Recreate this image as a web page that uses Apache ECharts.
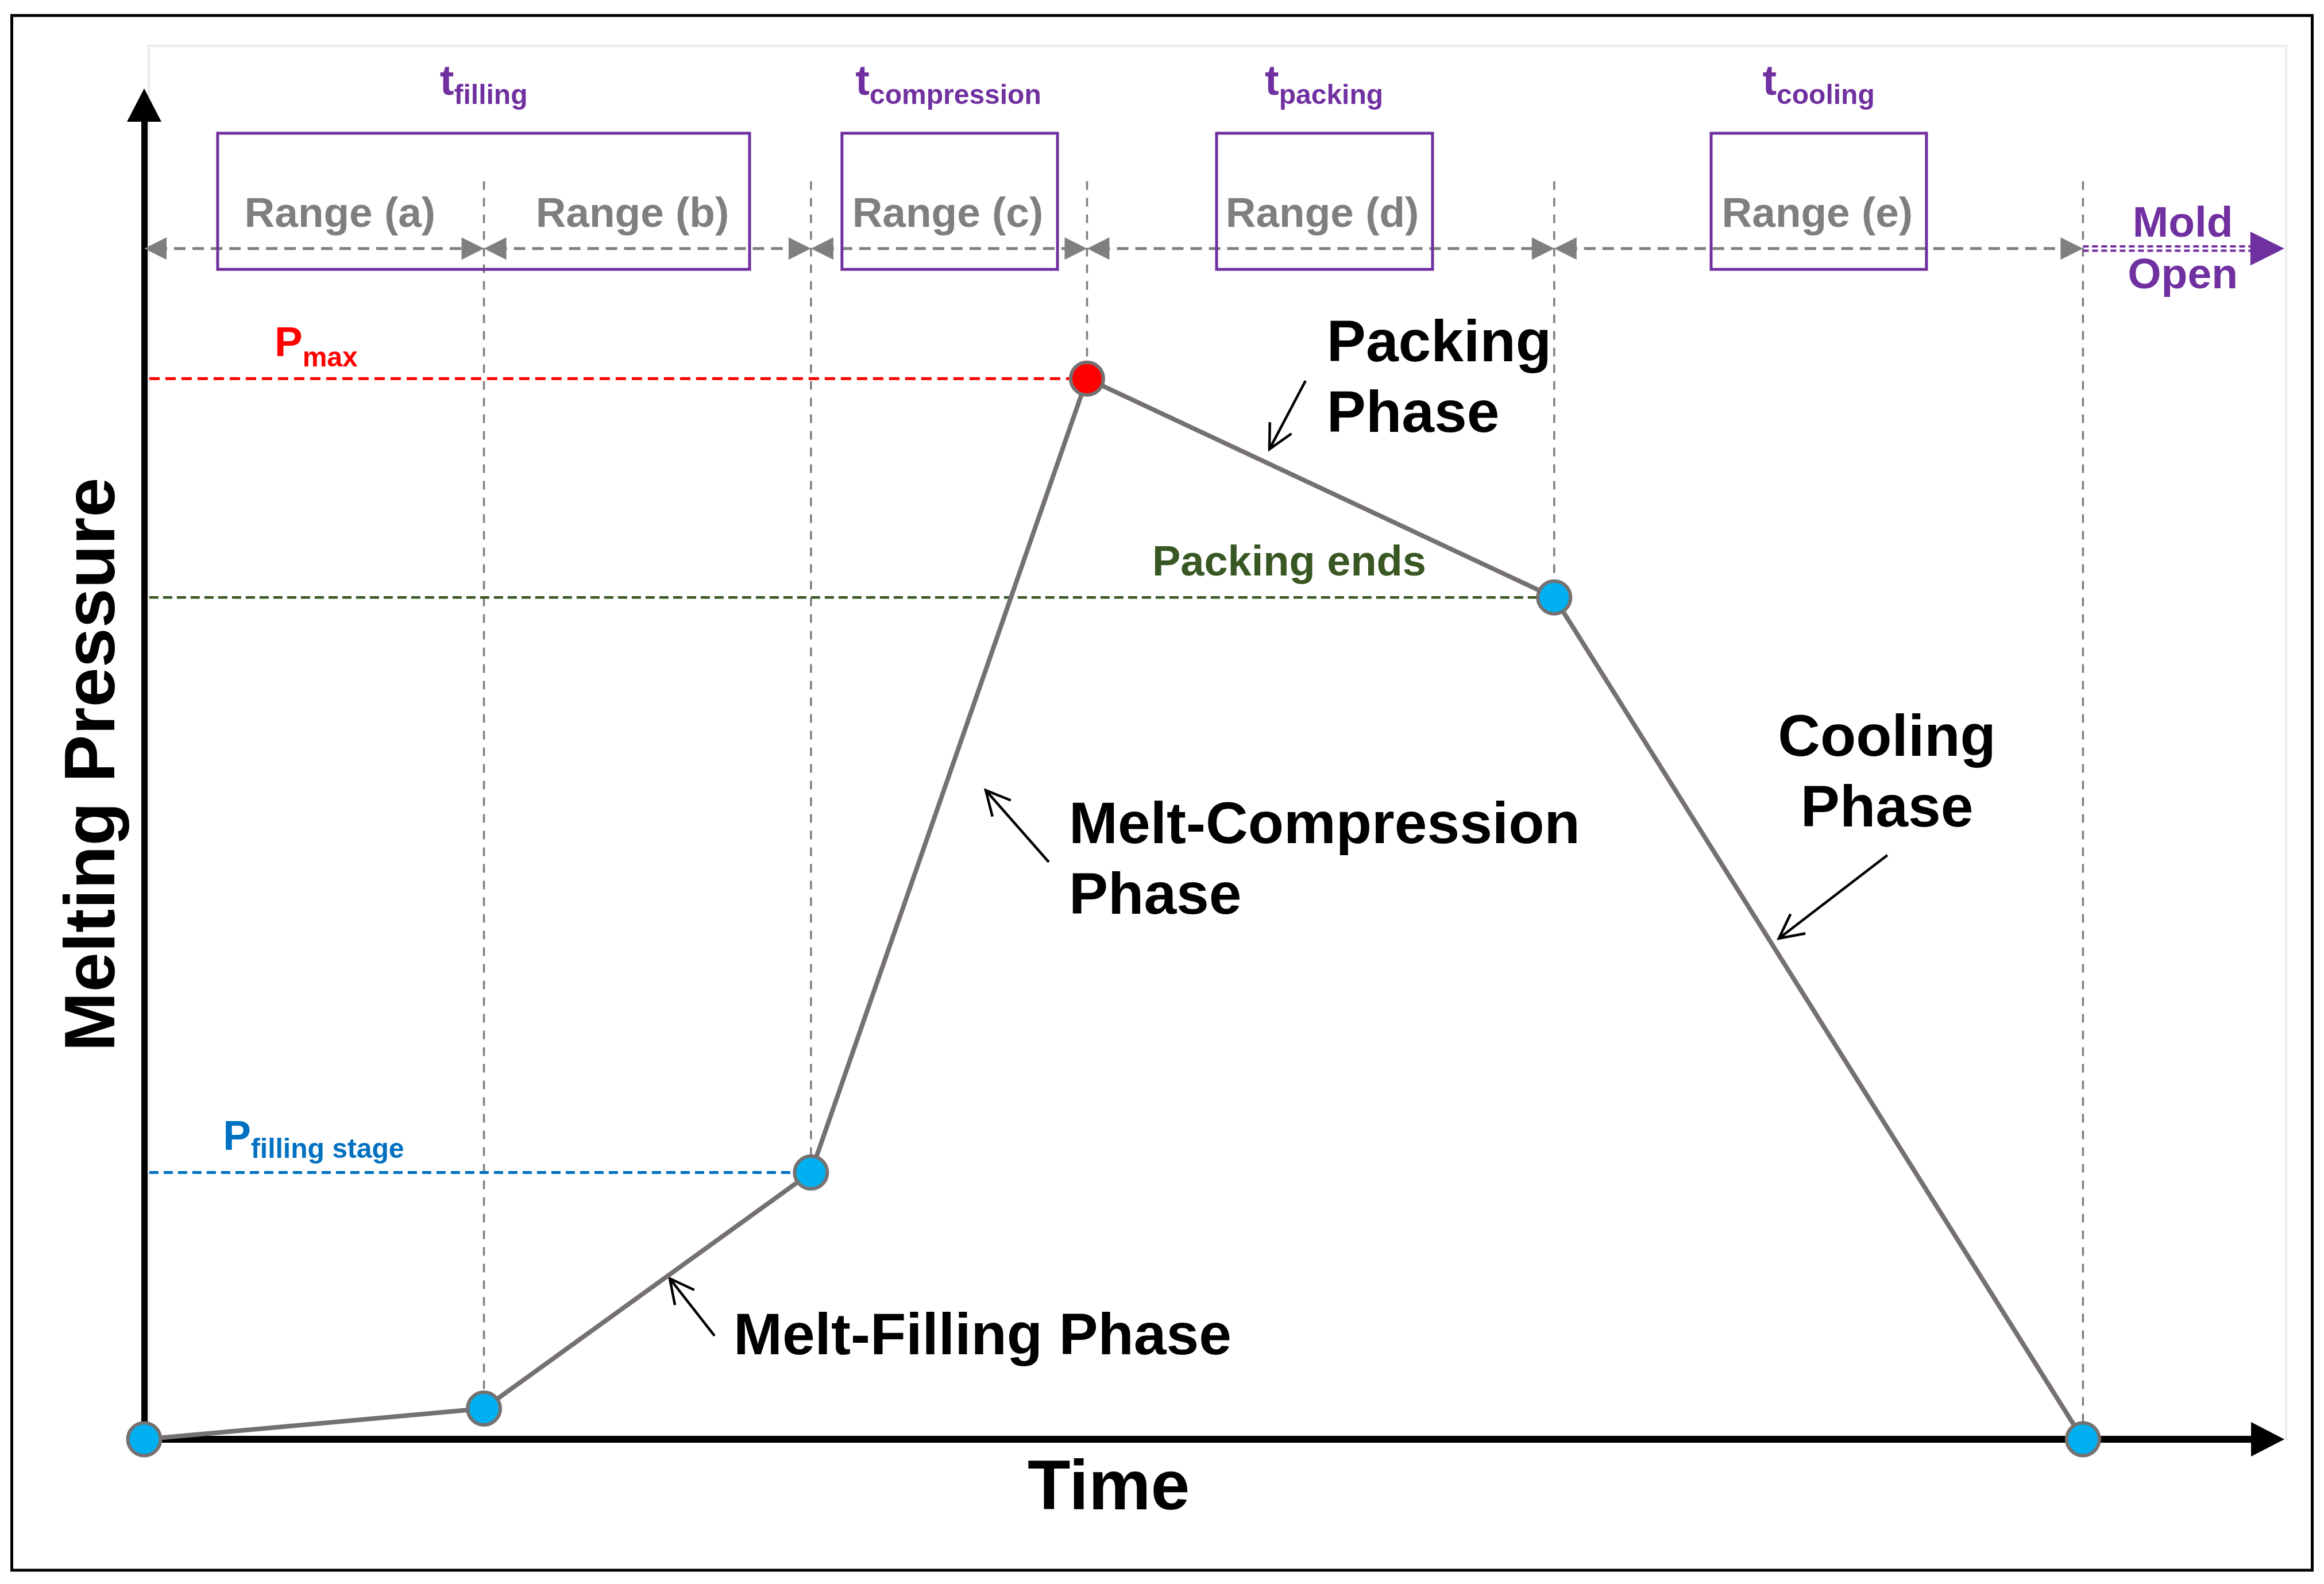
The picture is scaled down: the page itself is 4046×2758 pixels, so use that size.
<!DOCTYPE html>
<html>
<head>
<meta charset="utf-8">
<script src="https://cdn.jsdelivr.net/npm/echarts@6/dist/echarts.min.js"></script>
<style>
html,body{margin:0;padding:0;background:#ffffff;}
#chart{width:4046px;height:2758px;}
</style>
</head>
<body>
<div id="chart"></div>
<script>
// ---------------- data ----------------
const times      = [0, 16.0, 31.4, 44.4, 66.4, 91.3];   // phase boundaries (time, arbitrary units)
const pressures  = [0, 2.3, 20.0, 79.5, 63.1, 0];       // melt pressure at each boundary
const rangeNames = ['Range (a)', 'Range (b)', 'Range (c)', 'Range (d)', 'Range (e)'];
const stageNames = ['filling', 'compression', 'packing', 'cooling'];
const phaseNames = ['Melt-Filling Phase', 'Melt-Compression\nPhase', 'Packing\nPhase', 'Cooling\nPhase'];
const levelNames = ['max', 'filling stage', 'Packing ends'];
const axisNames  = ['Time', 'Melting Pressure'];
const moldOpenText = 'Mold\nOpen';

// ---------------- layout (data units of the axes) ----------------
const L = {
  guideTop: 94.3,
  rangeRowY: 89.25,
  moldEnd: 100.78,
  levelStart: 0.24,
  boxes: [[3.46, 28.51], [32.86, 43.01], [50.50, 60.67], [73.79, 83.93]],
  boxY: [87.69, 97.89],
  rangeLabelX: [9.22, 22.99, 37.84, 55.48, 78.79],
  rangeLabelY: 91.75,
  stageLabelX: [15.99, 37.87, 55.56, 78.85],
  stageLabelY: 101.66,
  moldLabel: [96.0, 89.11],
  pmaxLabel: [6.14, 82.06],
  pfillLabel: [3.71, 22.57],
  packEndLabel: [53.92, 65.63],
  phaseLabels: [[27.75, 7.59, 'left'], [43.55, 43.23, 'left'], [55.69, 79.35, 'left'], [82.07, 49.78, 'center']],
  phaseArrows: [[26.86, 7.75, 24.75, 12.05], [42.60, 43.26, 39.63, 48.64], [54.69, 79.34, 52.99, 74.21], [82.09, 43.78, 76.98, 37.54]],
  timeLabel: [45.42, -3.82],
  pressureLabel: [-2.33, 50.58]
};

// ---------------- styles ----------------
const FONT = "'Liberation Sans', Arial, Helvetica, sans-serif";
const LINE = '#767171', CYAN = '#00B0F0', RED = '#FF0000', PURPLE = '#7030A0',
      GREY = '#7F7F7F', BLUE = '#0070C0', GREEN = '#385723';

const maxIdx = pressures.indexOf(Math.max.apply(null, pressures));
const levelDefs = [
  {idx: maxIdx, color: RED, dash: [18, 10], width: 5},
  {idx: 2, color: BLUE, dash: [16, 9], width: 5},
  {idx: 4, color: GREEN, dash: [16, 8], width: 4.5}
];

// ---------------- renderers ----------------
function renderGuide(params, api) {
  const a = api.coord([api.value(0), api.value(1)]);
  const b = api.coord([api.value(0), api.value(2)]);
  return {type: 'line', shape: {x1: a[0], y1: a[1], x2: b[0], y2: b[1]},
          style: {stroke: GREY, lineWidth: 3.5, lineDash: [15, 14]}};
}
function renderLevel(params, api) {
  const s = levelDefs[params.dataIndex];
  const a = api.coord([api.value(0), api.value(2)]);
  const b = api.coord([api.value(1), api.value(2)]);
  return {type: 'line', shape: {x1: a[0], y1: a[1], x2: b[0], y2: b[1]},
          style: {stroke: s.color, lineWidth: s.width, lineDash: s.dash}};
}
function renderRange(params, api) {
  const y = api.value(2);
  const a = api.coord([api.value(0), y]), b = api.coord([api.value(1), y]);
  const len = 39, h = 19.5;
  return {type: 'group', children: [
    {type: 'line', shape: {x1: a[0] + 20, y1: a[1], x2: b[0] - 20, y2: b[1]},
     style: {stroke: GREY, lineWidth: 5, lineDash: [20, 12]}},
    {type: 'polygon', shape: {points: [[a[0], a[1]], [a[0] + len, a[1] - h], [a[0] + len, a[1] + h]]}, style: {fill: GREY}},
    {type: 'polygon', shape: {points: [[b[0], b[1]], [b[0] - len, b[1] - h], [b[0] - len, b[1] + h]]}, style: {fill: GREY}}
  ]};
}
function renderMold(params, api) {
  const y = api.value(2);
  const a = api.coord([api.value(0), y]), b = api.coord([api.value(1), y]);
  const len = 59, h = 29.5;
  const mk = function (dy) {
    return {type: 'line', shape: {x1: a[0], y1: a[1] + dy, x2: b[0] - len + 2, y2: b[1] + dy},
            style: {stroke: PURPLE, lineWidth: 4, lineDash: [10, 6]}};
  };
  return {type: 'group', children: [mk(-3.8), mk(3.8),
    {type: 'polygon', shape: {points: [[b[0], b[1]], [b[0] - len, b[1] - h], [b[0] - len, b[1] + h]]}, style: {fill: PURPLE}}]};
}
function renderBox(params, api) {
  const a = api.coord([api.value(0), api.value(3)]);
  const b = api.coord([api.value(1), api.value(2)]);
  return {type: 'rect', shape: {x: a[0], y: a[1], width: b[0] - a[0], height: b[1] - a[1]},
          style: {fill: 'none', stroke: PURPLE, lineWidth: 5}};
}
function renderArrow(params, api) {
  const a = api.coord([api.value(0), api.value(1)]);
  const b = api.coord([api.value(2), api.value(3)]);
  const ang = Math.atan2(b[1] - a[1], b[0] - a[0]);
  const len = 47, spread = 0.47;
  const h1 = [b[0] - len * Math.cos(ang - spread), b[1] - len * Math.sin(ang - spread)];
  const h2 = [b[0] - len * Math.cos(ang + spread), b[1] - len * Math.sin(ang + spread)];
  return {type: 'group', children: [
    {type: 'line', shape: {x1: a[0], y1: a[1], x2: b[0], y2: b[1]}, style: {stroke: '#000', lineWidth: 4.5}},
    {type: 'polyline', shape: {points: [h1, b, h2]}, style: {stroke: '#000', lineWidth: 4.5, fill: 'none'}}
  ]};
}

// ---------------- label items ----------------
const labelItems = [];
function addLabel(pos, text, opts) {
  const label = Object.assign({
    show: true, position: 'inside', formatter: function () { return text; },
    fontFamily: FONT, fontWeight: 'bold', align: 'center', verticalAlign: 'middle', opacity: 1
  }, opts);
  labelItems.push({value: pos, label: label});
}
function subRich(color, big, small, pad) {
  return {
    b: {fontFamily: FONT, fontWeight: 'bold', fontSize: big, lineHeight: big, color: color},
    s: {fontFamily: FONT, fontWeight: 'bold', fontSize: small, lineHeight: small, color: color, padding: [pad, 0, 0, 0]}
  };
}
rangeNames.forEach(function (n, i) {
  addLabel([L.rangeLabelX[i], L.rangeLabelY], n, {fontSize: 73, color: GREY});
});
stageNames.forEach(function (n, i) {
  addLabel([L.stageLabelX[i], L.stageLabelY], '{b|t}{s|' + n + '}', {rich: subRich(PURPLE, 74, 48, 47)});
});
addLabel(L.moldLabel, moldOpenText, {fontSize: 75, lineHeight: 90, color: PURPLE});
addLabel(L.pmaxLabel, '{b|P}{s|' + levelNames[0] + '}', {align: 'left', rich: subRich(RED, 73, 48, 50)});
addLabel(L.pfillLabel, '{b|P}{s|' + levelNames[1] + '}', {align: 'left', rich: subRich(BLUE, 73, 48, 42)});
addLabel(L.packEndLabel, levelNames[2], {fontSize: 74, color: GREEN});
phaseNames.forEach(function (n, i) {
  const p = L.phaseLabels[i];
  addLabel([p[0], p[1]], n, {fontSize: 102, lineHeight: 123, color: '#000', align: p[2]});
});
addLabel(L.timeLabel, axisNames[0], {fontSize: 122, color: '#000'});
addLabel(L.pressureLabel, axisNames[1], {fontSize: 124, color: '#000', rotate: 90});

// ---------------- chart ----------------
const chart = echarts.init(document.getElementById('chart'), null, {renderer: 'canvas'});
const axisCommon = {
  type: 'value', min: 0, max: 100,
  axisTick: {show: false}, axisLabel: {show: false}, splitLine: {show: false}
};
chart.setOption({
  animation: false,
  backgroundColor: '#ffffff',
  graphic: [
    {type: 'rect', z: -10, shape: {x: 259, y: 80, width: 3721, height: 2426},
     style: {fill: 'none', stroke: '#ececec', lineWidth: 4}},
    {type: 'rect', z: 100, shape: {x: 20.5, y: 27, width: 4005, height: 2707},
     style: {fill: 'none', stroke: '#000000', lineWidth: 5}}
  ],
  grid: {left: 251, right: 98, top: 183, bottom: 252, containLabel: false},
  xAxis: Object.assign({}, axisCommon, {
    axisLine: {show: true, symbol: ['none', 'triangle'], symbolSize: [60, 58],
               lineStyle: {color: '#000', width: 12}}
  }),
  yAxis: Object.assign({}, axisCommon, {
    axisLine: {show: true, symbol: ['none', 'triangle'], symbolSize: [60, 58],
               lineStyle: {color: '#000', width: 11}}
  }),
  series: [
    {type: 'custom', name: 'guides', z: 1, silent: true, renderItem: renderGuide,
     data: times.slice(1).map(function (t, i) { return [t, L.guideTop, pressures[i + 1]]; })},
    {type: 'custom', name: 'levels', z: 1, silent: true, renderItem: renderLevel,
     data: levelDefs.map(function (d) { return [L.levelStart, times[d.idx], pressures[d.idx]]; })},
    {type: 'custom', name: 'ranges', z: 2, silent: true, renderItem: renderRange,
     data: times.slice(1).map(function (t, i) { return [times[i], t, L.rangeRowY]; })},
    {type: 'custom', name: 'mold', z: 2, silent: true, renderItem: renderMold,
     data: [[times[times.length - 1], L.moldEnd, L.rangeRowY]]},
    {type: 'custom', name: 'boxes', z: 2, silent: true, renderItem: renderBox,
     data: L.boxes.map(function (b) { return [b[0], b[1], L.boxY[0], L.boxY[1]]; })},
    {type: 'custom', name: 'arrows', z: 2, silent: true, renderItem: renderArrow,
     data: L.phaseArrows},
    {type: 'line', name: 'pressure', z: 5, clip: false, silent: true,
     symbol: 'circle', symbolSize: 57, showAllSymbol: true,
     lineStyle: {color: LINE, width: 8},
     itemStyle: {color: CYAN, borderColor: LINE, borderWidth: 6},
     data: times.map(function (t, i) {
       const item = {value: [t, pressures[i]]};
       if (i === maxIdx) item.itemStyle = {color: RED, borderColor: LINE, borderWidth: 6};
       return item;
     })},
    {type: 'scatter', name: 'labels', z: 6, clip: false, silent: true,
     symbolSize: 0, itemStyle: {opacity: 1}, data: labelItems}
  ]
});
</script>
</body>
</html>
